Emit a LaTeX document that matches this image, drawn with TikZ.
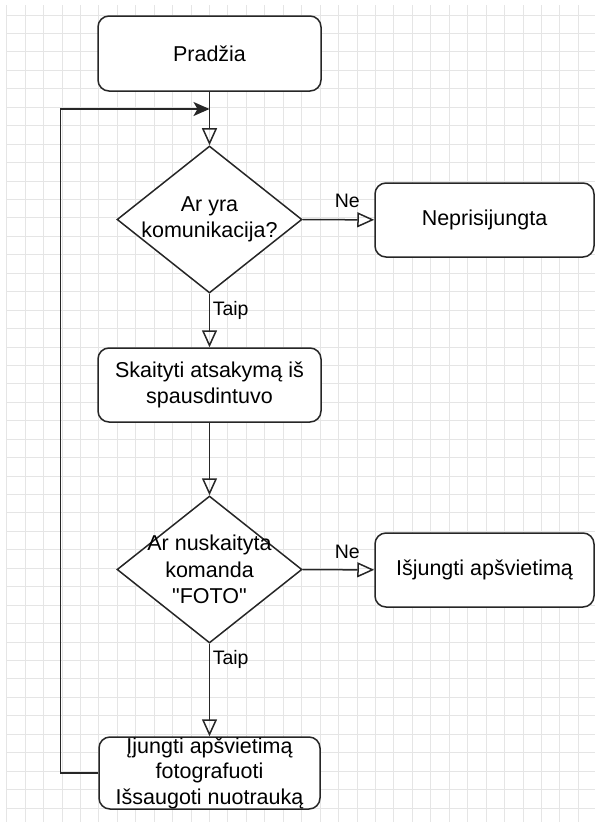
\documentclass[tikz,border=0pt]{standalone}
\usepackage{fontspec}
\setmainfont{Liberation Sans}[Ligatures=TeXOff]
\usetikzlibrary{positioning, arrows.meta, shapes.geometric}

\begin{document}
\begin{tikzpicture}[x=1pt, y=-1pt, line width=1.5pt, color=black!85,
  every node/.style={font=\fontsize{21.5}{26.5}\selectfont, text=black},
  block/.style={draw, rectangle, rounded corners=11pt, fill=white, align=center, inner sep=0pt},
  decision/.style={draw, diamond, fill=white, inner sep=0pt, minimum width=185pt, minimum height=147pt},
  answer/.style={font=\fontsize{19.5}{23}\selectfont, anchor=base west, inner sep=0pt},
  flow/.style={-{Triangle[open, length=17pt, width=15pt]}}]
  \useasboundingbox (0,0) rectangle (595,822);

  % Grid
  \foreach \k in {0,...,31}
    \draw[gray!20, line width=0.8pt] (6.6+18.44*\k,5) -- (6.6+18.44*\k,822);
  \foreach \k in {0,...,43}
    \draw[gray!20, line width=0.8pt] (6.6,15+18.44*\k) -- (595,15+18.44*\k);

  % Nodes
  \node[block, minimum width=223pt, minimum height=75pt] (start) at (209.5,53.5) {Pradžia};
  \node[decision] (comm) at (209.5,219.5) {};
  \node[align=center] (commtext) at (comm.center) {Ar yra\\komunikacija?};
  \node[block, minimum width=219pt, minimum height=74pt] (offline) at (484.5,220) {Neprisijungta};
  \node[block, minimum width=223pt, minimum height=74pt] (read) at (209.5,385) {Skaityti atsakymą iš\\spausdintuvo};
  \node[decision] (cmd) at (209.5,569.5) {};
  \node[align=center] (cmdtext) at (cmd.center) {Ar nuskaityta\\komanda\\"FOTO"};
  \node[block, minimum width=219pt, minimum height=74pt] (lightoff) at (484.5,570) {Išjungti apšvietimą};
  \node[block, minimum width=221pt, minimum height=72pt] (photo) at (209.5,773) {};
  \node[align=center, font=\fontsize{21.5}{25.5}\selectfont] (phototext) at (photo.center) {Įjungti apšvietimą\\fotografuoti\\Išsaugoti nuotrauką};
  \coordinate (join) at (209.5,109);

  % Arrows
  \draw[flow] (start) -- (comm);
  \draw[flow] (comm) -- (offline);
  \draw[flow] (comm) -- (read);
  \draw[flow] (read) -- (cmd);
  \draw[flow] (cmd) -- (lightoff);
  \draw[flow] (cmd) -- (photo);
  \draw[-{Stealth[length=16pt, width=14pt, inset=4pt]}] (photo.west) -- ++(-38,0) |- (join);

  % Answers
  \node[answer] (ne1) at (334,207) {Ne};
  \node[answer] (taip1) at (212,315) {Taip};
  \node[answer] (ne2) at (334,558) {Ne};
  \node[answer] (taip2) at (212,664) {Taip};
\end{tikzpicture}
\end{document}
